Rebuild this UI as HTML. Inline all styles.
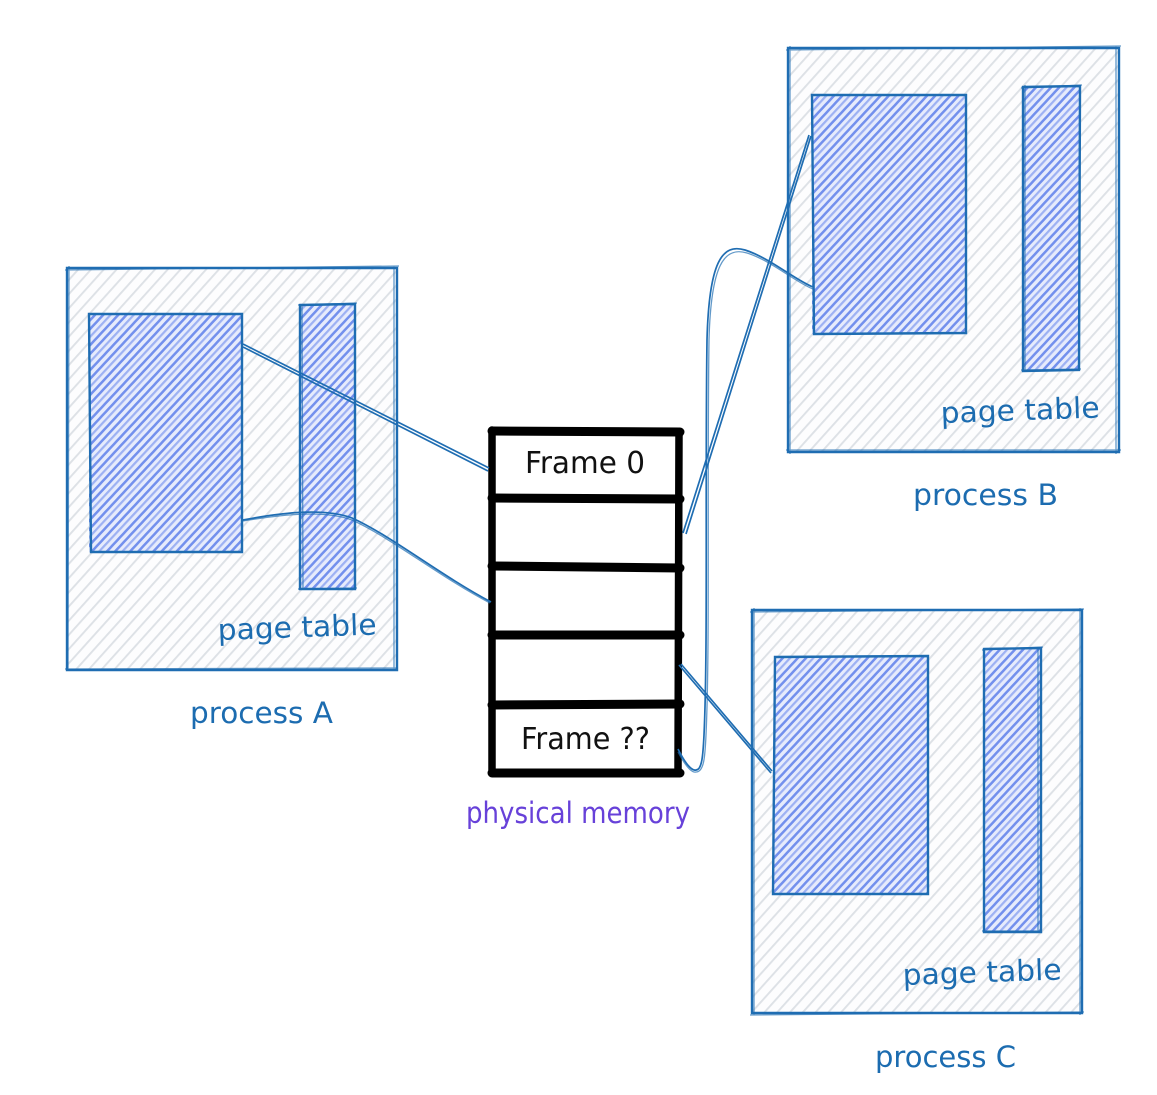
<!DOCTYPE html>
<html>
<head>
<meta charset="utf-8">
<style>
html,body{margin:0;padding:0;background:#fff;width:1157px;height:1095px;overflow:hidden}
svg{display:block}
text{font-family:"DejaVu Sans","Liberation Sans",sans-serif;font-size:29px}
.b{fill:#1c6cb0}
.k{fill:#111;font-size:30px}
.o{fill:none;stroke:#1f6db2;stroke-width:2.4}
.t{fill:none;stroke:#1f6db2;stroke-width:1.3;opacity:.7}
.l{fill:none;stroke:#1f6db2;stroke-width:1.7}
.f{fill:none;stroke:#000;stroke-width:9;stroke-linecap:round}
.v{fill:none;stroke:#000;stroke-width:7.5;stroke-linecap:round}
</style>
</head>
<body>
<svg width="1157" height="1095" viewBox="0 0 1157 1095" xmlns="http://www.w3.org/2000/svg">
<defs>
<pattern id="g" width="9.5" height="9.5" patternUnits="userSpaceOnUse" patternTransform="rotate(-48)">
<rect width="9.5" height="9.5" fill="#fdfdfe"/>
<rect y="0" width="9.5" height="1.9" fill="#dde1e6"/>
</pattern>
<pattern id="h" width="17" height="17" patternUnits="userSpaceOnUse" patternTransform="rotate(-47)">
<rect width="17" height="17" fill="#e6ebfc"/>
<rect y="0" width="17" height="2.5" fill="#7390ed"/>
<rect y="5.5" width="17" height="2.2" fill="#9db1f3"/>
<rect y="11" width="17" height="2.5" fill="#7390ed"/>
</pattern>
</defs>

<!-- process A -->
<rect x="67" y="268" width="330" height="402" fill="url(#g)"/>
<rect x="89" y="314" width="153" height="238" fill="url(#h)"/>
<rect x="300" y="305" width="55" height="284" fill="url(#h)"/>
<path class="o" d="M67 268L397 268L397 670L67 670Z"/>
<path class="t" d="M65 270L399 266M394 266L394 671M65 669L398 668M69 266L68 671"/>
<path class="o" d="M89 314L242 314L242 552L91 552Z"/>
<path class="o" d="M300 305L355 304L355 589L300 589Z"/>
<path class="t" d="M298 305L357 303M298 589L357 588M302 304L303 590"/>

<!-- process B -->
<rect x="788" y="48" width="331" height="404" fill="url(#g)"/>
<rect x="812" y="95" width="154" height="239" fill="url(#h)"/>
<rect x="1023" y="86" width="57" height="285" fill="url(#h)"/>
<path class="o" d="M788 48L1119 48L1119 452L788 452Z"/>
<path class="t" d="M786 50L1121 46M1116 46L1116 454M786 450L1121 450M790 46L790 454"/>
<path class="o" d="M812 95L966 95L966 333L814 334Z"/>
<path class="o" d="M1023 87L1080 86L1079 370L1023 371Z"/>
<path class="t" d="M1021 88L1082 85M1021 370L1081 369M1025 85L1025 372"/>

<!-- process C -->
<rect x="752" y="610" width="330" height="403" fill="url(#g)"/>
<rect x="774" y="656" width="154" height="238" fill="url(#h)"/>
<rect x="984" y="648" width="57" height="284" fill="url(#h)"/>
<path class="o" d="M752 610L1082 610L1082 1013L752 1013Z"/>
<path class="t" d="M750 612L1084 609M1080 608L1080 1015M750 1015L1084 1012M754 608L754 1015"/>
<path class="o" d="M775 657L928 656L928 894L773 894Z"/>
<path class="o" d="M984 649L1041 648L1041 932L984 932Z"/>
<path class="t" d="M982 650L1043 647M982 931L1042 931M1038 647L1038 933"/>

<!-- memory -->
<rect x="491" y="431" width="189" height="342" fill="#fff"/>
<path class="v" d="M492 430L492 773"/>
<path class="v" d="M679 432L678 773"/>
<path class="f" d="M492 431L680 432M492 498L680 499M492 566L680 568M492 635L680 635M492 705L680 704M492 773L680 773"/>

<!-- connectors -->
<path class="l" d="M243 344L489 468M243 347L488 471"/>
<path class="l" d="M243 520C285 512 325 508 352 518C390 535 440 575 491 602"/>
<path class="t" d="M243 521C285 514 325 510 352 520C390 537 440 577 490 603"/>
<path class="l" d="M683 533L809 135M686 534L811 136"/>
<path class="l" d="M678 749C686 765 692 771 696 770C702 770 703 755 704 735C708 650 705 480 707 340C709 262 722 243 745 250C770 258 795 280 813 287"/>
<path class="t" d="M678 752C686 767 692 773 696 772C704 772 705 757 706 735C710 650 707 480 709 340C711 265 724 246 747 253C772 261 795 282 813 289"/>
<path class="l" d="M679 665L771 773M681 664L772 771"/>

<!-- labels -->
<text class="k" x="525" y="473" textLength="120" lengthAdjust="spacingAndGlyphs">Frame 0</text>
<text class="k" x="521" y="749" textLength="129" lengthAdjust="spacingAndGlyphs">Frame ??</text>
<text class="b" x="218" y="640" textLength="159" lengthAdjust="spacingAndGlyphs" transform="rotate(-2 218 640)">page table</text>
<text class="b" x="941" y="423" textLength="159" lengthAdjust="spacingAndGlyphs" transform="rotate(-2 941 423)">page table</text>
<text class="b" x="903" y="985" textLength="159" lengthAdjust="spacingAndGlyphs" transform="rotate(-2 903 985)">page table</text>
<text class="b" x="190" y="723" textLength="143" lengthAdjust="spacingAndGlyphs">process A</text>
<text class="b" x="913" y="505" textLength="145" lengthAdjust="spacingAndGlyphs">process B</text>
<text class="b" x="875" y="1067" textLength="141" lengthAdjust="spacingAndGlyphs">process C</text>
<text x="466" y="823" fill="#6741d9" textLength="224" lengthAdjust="spacingAndGlyphs">physical memory</text>
</svg>
</body>
</html>
